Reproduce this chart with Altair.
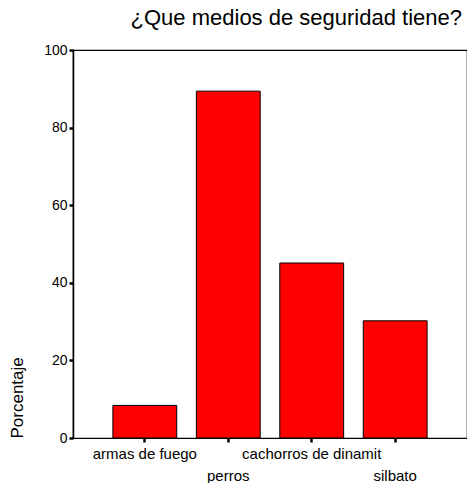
import altair as alt
import pandas as pd

categories = ["armas de fuego", "perros", "cachorros de dinamit", "silbato"]
values = [8.4, 89.4, 45.1, 30.2]
y_ticks = [0, 20, 40, 60, 80, 100]

df = pd.DataFrame({"cat": categories, "pct": values})

FONT = "Liberation Sans"

chart = alt.Chart(df).mark_bar(
    color="#ff0000", stroke="black", strokeWidth=1
).encode(
    x=alt.X(
        "cat:N",
        sort=categories,
        title=None,
        scale=alt.Scale(paddingInner=0.235, paddingOuter=0.478),
        axis=alt.Axis(
            labelAngle=0,
            labelFont=FONT,
            labelFontSize=15,
            labelColor="black",
            labelBaseline="alphabetic",
            domain=False,
            ticks=True,
            tickColor="black",
            tickSize=4,
            tickWidth=2.5,
            labelPadding={
                "condition": {
                    "test": "datum.value == 'perros' || datum.value == 'silbato'",
                    "value": 38,
                },
                "value": 16,
            },
        ),
    ),
    y=alt.Y(
        "pct:Q",
        title="Porcentaje",
        scale=alt.Scale(domain=[0, 100], nice=False),
        axis=alt.Axis(
            values=y_ticks,
            grid=False,
            labelFont=FONT,
            labelFontSize=14,
            labelColor="black",
            labelPadding=2,
            domainColor="black",
            domainWidth=1.5,
            tickColor="black",
            tickSize=4,
            tickWidth=2.5,
            titleFont=FONT,
            titleFontSize=17,
            titleFontWeight="normal",
            titleColor="black",
            titleX=-56,
            titleY=388,
            titleAlign="left",
            titleBaseline="middle",
            titleAngle=-90,
        ),
    ),
).properties(
    width=394,
    height=388,
    title=alt.TitleParams(
        "¿Que medios de seguridad tiene?",
        font=FONT,
        fontSize=22,
        fontWeight="normal",
        color="black",
        anchor="end",
        offset=13,
        dx=-5,
    ),
    autosize=alt.AutoSizeParams(type="none"),
    padding={"left": 65, "top": 42, "right": 0, "bottom": 45},
).configure(
    background="white"
).configure_view(
    stroke="black", strokeWidth=1.2
)

chart.save("out.html", embed_options={"renderer": "svg", "actions": False})
